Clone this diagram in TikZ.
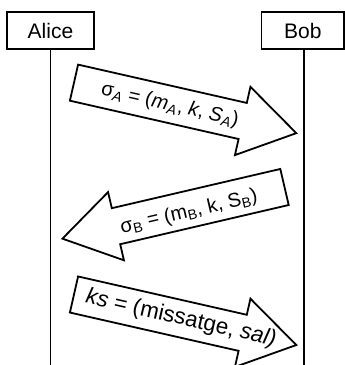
\documentclass[tikz,border=0pt]{standalone}
\usepackage{fontspec}
\setmainfont{Liberation Sans}
\newcommand{\lowidx}[1]{\textsubscript{#1}}
\tikzset{
  actor/.style={draw, line width=1.8pt, minimum height=37pt, inner sep=0pt,
    font=\fontsize{21}{24}\selectfont},
  lifeline/.style={line width=1.8pt},
  msgarrow/.style={draw, line width=1.8pt, fill=white, line join=miter},
  msgtext/.style={font=\fontsize{20}{24}\selectfont, inner sep=0pt},
}
\begin{document}
\begin{tikzpicture}[x=1pt,y=1pt]
\useasboundingbox (0,0) rectangle (345,365);

% participants
\node[actor, minimum width=87.5pt] (alice) at (50.5,334.2) {Alice};
\node[actor, minimum width=82.5pt] (bob) at (302.8,334.2) {Bob};

% lifelines
\coordinate (alicetop) at (alice.south);
\coordinate (alicebot) at (alice.south |- 0,0);
\coordinate (bobtop) at ([xshift=1.4pt]bob.south);
\coordinate (bobbot) at (bobtop |- 0,0);
\draw[lifeline] (alicetop) -- (alicebot);
\draw[lifeline] (bobtop) -- (bobbot);

% message 1: Alice -> Bob
\begin{scope}[shift={(74,282.35)}, rotate=-12.8]
  \draw[msgarrow] (0,18.5) -- (173,18.5) -- (173,35) -- (228,0)
    -- (173,-35) -- (173,-18.5) -- (0,-18.5) -- cycle;
  \node[msgtext, rotate=-12.8] (m1) at (98.5,-1)
    {σ\lowidx{\textit{A}} = (\textit{m}\lowidx{\textit{A}}, \textit{k}, \textit{S}\lowidx{\textit{A}})};
\end{scope}

% message 2: Bob -> Alice
\begin{scope}[shift={(284.5,178)}, rotate=193.1]
  \draw[msgarrow] (0,18.5) -- (173,18.5) -- (173,35) -- (228,0)
    -- (173,-35) -- (173,-18.5) -- (0,-18.5) -- cycle;
  \node[msgtext, rotate=13.1] (m2) at (98.8,3)
    {σ\lowidx{B} = (m\lowidx{B}, k, S\lowidx{B})};
\end{scope}

% message 3: Alice -> Bob
\begin{scope}[shift={(74,70.5)}, rotate=-12.8]
  \draw[msgarrow] (0,18.5) -- (173,18.5) -- (173,35) -- (228,0)
    -- (173,-35) -- (173,-18.5) -- (0,-18.5) -- cycle;
  \node[msgtext, font=\fontsize{22.5}{26}\selectfont, rotate=-12.8] (m3) at (109.6,0)
    {\textit{ks} = (missatge, \textit{sal)}};
\end{scope}
\end{tikzpicture}
\end{document}
